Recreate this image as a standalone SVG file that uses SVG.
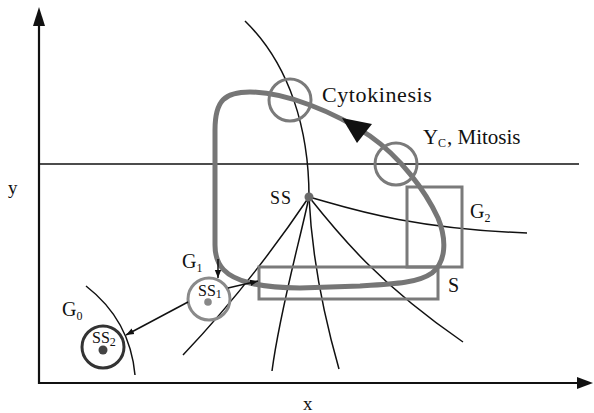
<svg xmlns="http://www.w3.org/2000/svg" width="594" height="413" viewBox="0 0 594 413">
<style>
text{font-family:"Liberation Serif","Times New Roman",serif;fill:#111}
.thin{fill:none;stroke:#111;stroke-width:1.5}
.axis{fill:none;stroke:#111;stroke-width:2.2}
.grey{fill:none;stroke:#7a7a7a;stroke-width:3}
.cycle{fill:none;stroke:#767676;stroke-width:5}
.lbl{font-size:20px}
.sub{font-size:12px}
</style>
<defs>
<marker id="ah" viewBox="0 0 10 10" refX="10" refY="5" markerWidth="8" markerHeight="8" orient="auto" markerUnits="userSpaceOnUse">
<path d="M0,1 L10,5 L0,9 Z" fill="#111"/>
</marker>
</defs>
<rect width="594" height="413" fill="#fff"/>
<g id="axes">
<path class="axis" d="M39,384 L39,22"/>
<path d="M39,7 L45,26 L33,26 Z" fill="#111"/>
<path class="axis" d="M38,383 L580,383"/>
<path d="M593,383 L577,377 L577,389 Z" fill="#111"/>
<path class="thin" d="M39,164 L579,164"/>
<text x="8" y="194" font-size="19">y</text>
<text x="303" y="410" font-size="19">x</text>
</g>
<g id="curves">
<path class="thin" d="M245,21 C290,65 309,130 309,197"/>
<path class="thin" d="M309,197 C340,205 400,228 527,233"/>
<path class="thin" d="M309,197 C280,240 240,295 183,355"/>
<path class="thin" d="M309,197 C300,240 280,310 272,371"/>
<path class="thin" d="M309,197 C312,260 325,320 339,369"/>
<path class="thin" d="M309,197 C340,236 380,285 463,342"/>
<path class="thin" d="M86,286 Q130,320 135,375"/>
</g>
<g id="boxes">
<rect class="grey" x="407" y="187" width="55" height="80"/>
<rect class="grey" x="259" y="267" width="179" height="32"/>
</g>
<g id="cycle">
<path class="cycle" d="M215,130 C215,100 225,92 250,92 C285,92 335,112 370,136 C400,157 425,190 438,218 C447,240 446,262 432,273 C418,283 395,284 360,286 L300,288 C275,288 262,286 250,283 C226,277 215,266 215,245 Z"/>
<path d="M342,118 L372,124 L357,143 Z" fill="#111"/>
</g>
<g id="cytokinesis">
<circle class="grey" cx="290" cy="100" r="21"/>
<text x="322" y="102" font-size="22" letter-spacing="0.6">Cytokinesis</text>
</g>
<g id="mitosis">
<circle class="grey" cx="396" cy="164" r="21"/>
<text x="423" y="144" font-size="21">Y<tspan class="sub" x="438" y="147" font-size="11">C</tspan><tspan x="447" y="144">, Mitosis</tspan></text>
</g>
<g id="ss">
<circle cx="309" cy="197" r="4.5" fill="#6a6a6a"/>
<text x="270" y="204" font-size="18" letter-spacing="1">SS</text>
</g>
<g id="g2"><text x="470" y="218" class="lbl">G<tspan class="sub" y="222">2</tspan></text></g>
<g id="s"><text x="448" y="292" class="lbl">S</text></g>
<g id="ss1">
<circle cx="209" cy="299" r="21" fill="none" stroke="#8a8a8a" stroke-width="3"/>
<circle cx="208" cy="302" r="3.8" fill="#888"/>
<text x="198" y="296" font-size="16">SS<tspan class="sub" font-size="11" y="298">1</tspan></text>
</g>
<g id="g1"><text x="182" y="268" class="lbl">G<tspan class="sub" y="272">1</tspan></text></g>
<g id="ss2">
<circle cx="103" cy="347" r="21" fill="none" stroke="#333" stroke-width="3"/>
<circle cx="103" cy="350" r="4.5" fill="#444"/>
<text x="92" y="343" font-size="16">SS<tspan class="sub" font-size="11" y="346">2</tspan></text>
</g>
<g id="g0"><text x="62" y="316" class="lbl">G<tspan class="sub" y="320">0</tspan></text></g>
<g id="connectors">
<path class="thin" d="M218,259 L218,278" marker-end="url(#ah)"/>
<path class="thin" d="M228,288 L258,281" marker-end="url(#ah)"/>
<path class="thin" d="M188,302 L126,335" marker-end="url(#ah)"/>
</g>
</svg>
